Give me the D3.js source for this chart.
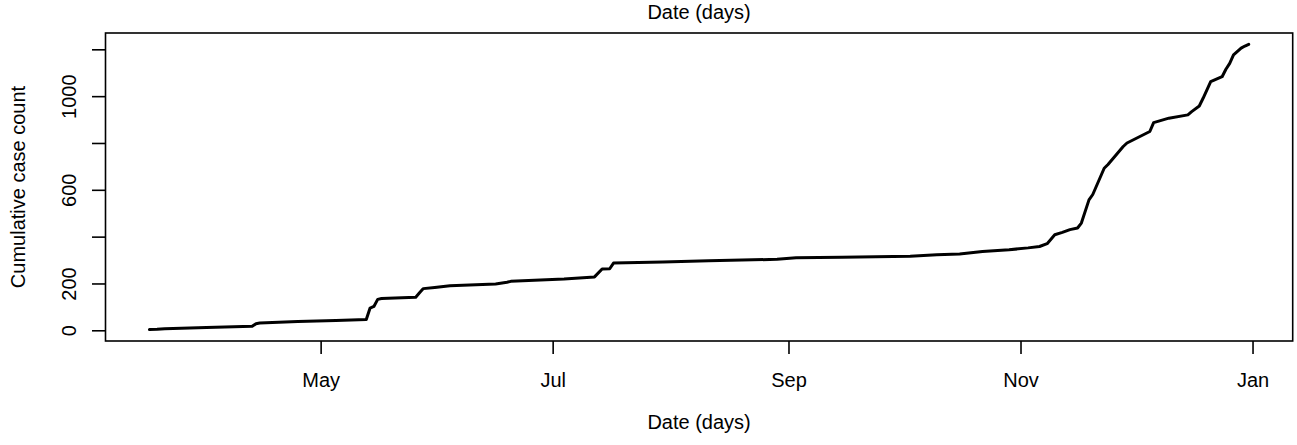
<!DOCTYPE html>
<html><head><meta charset="utf-8">
<script src="https://cdn.jsdelivr.net/npm/d3@7"></script>
<style>body{margin:0;background:#fff} svg{display:block}</style>
</head><body><svg id="c" width="1297" height="445"></svg>
<script>
const dates = ["2020-03-17","2020-03-19","2020-03-21","2020-04-01","2020-04-13","2020-04-14","2020-04-15","2020-04-25","2020-05-05","2020-05-13","2020-05-14","2020-05-15","2020-05-16","2020-05-17","2020-05-26","2020-05-27","2020-05-28","2020-05-31","2020-06-04","2020-06-16","2020-06-19","2020-06-20","2020-07-04","2020-07-12","2020-07-14","2020-07-16","2020-07-17","2020-07-30","2020-08-11","2020-08-29","2020-09-03","2020-09-15","2020-10-03","2020-10-10","2020-10-16","2020-10-22","2020-10-29","2020-11-03","2020-11-06","2020-11-08","2020-11-10","2020-11-12","2020-11-14","2020-11-16","2020-11-17","2020-11-19","2020-11-20","2020-11-23","2020-11-24","2020-11-28","2020-11-29","2020-12-05","2020-12-06","2020-12-10","2020-12-15","2020-12-16","2020-12-18","2020-12-19","2020-12-21","2020-12-24","2020-12-25","2020-12-26","2020-12-27","2020-12-29","2020-12-30","2020-12-31"];
const counts = [3,4,7,12,17,28,31,38,42,46,95,102,132,136,141,160,178,183,190,198,205,209,219,228,262,263,287,292,297,303,310,312,316,323,326,337,344,352,358,370,408,418,430,437,458,557,580,692,708,785,800,849,887,906,920,934,958,991,1062,1083,1115,1140,1176,1205,1214,1221];
const yTicks = [0,200,400,600,800,1000,1200];
const yTickLabels = ["0","200","","600","","1000",""];
const xTickDates = ["2020-05-01","2020-07-01","2020-09-01","2020-11-01","2021-01-01"];
const xTickLabels = ["May","Jul","Sep","Nov","Jan"];
const mainTitle = "Date (days)";
const xTitle = "Date (days)";
const yTitle = "Cumulative case count";

const parse = d3.utcParse("%Y-%m-%d");
const data = dates.map((d,i)=>({date: parse(d), value: counts[i]}));

const pLeft = 105.5, pRight = 1292.7, pTop = 33, pBottom = 341;
const font = "'Liberation Sans', Arial, Helvetica, sans-serif";
const fs = 20;

const xExt = d3.extent(data, d=>d.date);
const xr = xExt[1]-xExt[0];
const x = d3.scaleUtc().domain([new Date(+xExt[0]-0.04*xr), new Date(+xExt[1]+0.04*xr)]).range([pLeft,pRight]);
const yExt = d3.extent(data, d=>d.value);
const yr = yExt[1]-yExt[0];
const y = d3.scaleLinear().domain([yExt[0]-0.04*yr, yExt[1]+0.04*yr]).range([pBottom, pTop]);

const svg = d3.select("#c");

svg.append("path").datum(data)
  .attr("fill","none").attr("stroke","#000").attr("stroke-width",3)
  .attr("stroke-linejoin","round").attr("stroke-linecap","round")
  .attr("d", d3.line().x(d=>x(d.date)).y(d=>y(d.value)));

svg.append("rect").attr("x",pLeft).attr("y",pTop).attr("width",pRight-pLeft).attr("height",pBottom-pTop)
  .attr("fill","none").attr("stroke","#000").attr("stroke-width",1.6);

const xAxis = d3.axisBottom(x).tickValues(xTickDates.map(parse))
  .tickFormat((d,i)=>xTickLabels[i]).tickSize(13);
const gx = svg.append("g").attr("transform",`translate(0,${pBottom})`).call(xAxis);
gx.select(".domain").remove();
gx.selectAll("line").attr("stroke","#000").attr("stroke-width",1.6);
gx.selectAll("text").attr("font-family",font).attr("font-size",fs).attr("fill","#000")
  .attr("y",46).attr("dy",0);

const yAxis = d3.axisLeft(y).tickValues(yTicks).tickFormat((d,i)=>yTickLabels[i]).tickSize(13.5);
const gy = svg.append("g").attr("transform",`translate(${pLeft},0)`).call(yAxis);
gy.select(".domain").remove();
gy.selectAll("line").attr("stroke","#000").attr("stroke-width",1.6);
gy.selectAll("text")
  .attr("font-family",font).attr("font-size",fs).attr("fill","#000")
  .attr("x",0).attr("y",0).attr("dy",0)
  .attr("text-anchor","middle")
  .attr("transform","translate(-29.5,0) rotate(-90)");

const cx = (pLeft+pRight)/2;
svg.append("text").attr("x",cx).attr("y",19).attr("text-anchor","middle")
  .attr("font-family",font).attr("font-size",fs).text(mainTitle);
svg.append("text").attr("x",cx).attr("y",429).attr("text-anchor","middle")
  .attr("font-family",font).attr("font-size",fs).text(xTitle);
svg.append("text").attr("transform",`translate(25,${(pTop+pBottom)/2}) rotate(-90)`).attr("text-anchor","middle")
  .attr("font-family",font).attr("font-size",fs).text(yTitle);
</script>
</body></html>
